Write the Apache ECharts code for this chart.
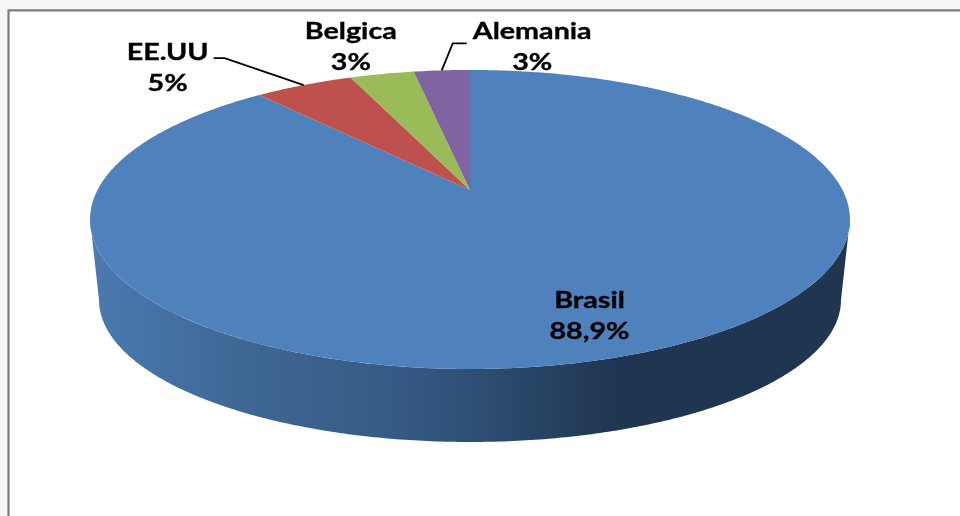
<!DOCTYPE html>
<html>
<head>
<meta charset="utf-8">
<style>html,body{margin:0;padding:0;background:#f6f6f6}#c{width:960px;height:516px;filter:blur(0.45px)}</style>
<script src="https://cdn.jsdelivr.net/npm/echarts@6/dist/echarts.min.js"></script>
</head>
<body>
<div id="c"></div>
<script>
const categories = ['Brasil', 'EE.UU', 'Belgica', 'Alemania'];
const shares = [88.9, 5.1, 3.3, 2.9];
const shareLabels = ['88,9%', '5%', '3%', '3%'];
const sliceColors = ['#4F81BD', '#BE504D', '#9BBB59', '#8064A2'];

// Perspective disc: angle on a circle -> pixel on screen.
const CX = 470, P = -0.197;
const top3d = { y: 190, a: 372.5, b: 143.7 };
const bottom3d = { y: 272, a: 363.7, b: 136.5 };
const labelOffset = [[-39, -39.5], [-136, -17], [-31, -27], [90.5, -23]];
const leaders = { 1: [[-90, -27], [-79, -27]], 3: [[25, -27], [11, -27]] };

const total = shares.reduce((s, v) => s + v, 0);
function project(theta, disc) {
  const u = Math.sin(theta), v = -Math.cos(theta), d = 1 + P * v;
  return [CX + disc.a * u / d, disc.y + disc.b * v / d];
}
function sliceAngles(i) {
  let before = 0;
  for (let k = 0; k < i; k++) before += shares[k];
  return [before / total * 2 * Math.PI, (before + shares[i]) / total * 2 * Math.PI];
}
function arc(a0, a1, disc) {
  const n = Math.max(2, Math.ceil(Math.abs(a1 - a0) / 0.01));
  const pts = [];
  for (let i = 0; i <= n; i++) pts.push(project(a0 + (a1 - a0) * i / n, disc));
  return pts;
}
// Angle where the disc reaches its widest screen extent (v = -P), on the right side.
const widest = Math.acos(P);

const wallFill = new echarts.graphic.LinearGradient(100, 0, 840, 0, [
  { offset: 0, color: '#4A79AE' },
  { offset: 0.19, color: '#3F6795' },
  { offset: 0.40, color: '#355A85' },
  { offset: 0.50, color: '#2F5075' },
  { offset: 0.70, color: '#1F3550' },
  { offset: 1, color: '#1F3550' }
], true);

const option = {
  backgroundColor: '#f6f6f6',
  animation: false,
  graphic: [{
    type: 'rect', z: -10,
    shape: { x: 8.5, y: 10.3, width: 1000, height: 600 },
    style: { fill: '#ffffff', stroke: '#7c7c7c', lineWidth: 2.2 }
  }],
  series: [
    {
      type: 'custom', coordinateSystem: 'none', z: 2, silent: true,
      data: [shares[0]],
      renderItem() {
        const lower = arc(widest, 2 * Math.PI - widest, bottom3d);
        const upper = arc(2 * Math.PI - widest, widest, top3d);
        return { type: 'polygon', shape: { points: lower.concat(upper) }, style: { fill: wallFill } };
      }
    },
    {
      type: 'custom', coordinateSystem: 'none', z: 3, silent: true,
      data: shares,
      renderItem(params) {
        const i = params.dataIndex;
        const [a0, a1] = sliceAngles(i);
        const pts = [[CX, top3d.y]].concat(arc(a0, a1, top3d));
        return { type: 'polygon', shape: { points: pts }, style: { fill: sliceColors[i] } };
      }
    },
    {
      type: 'custom', coordinateSystem: 'none', z: 4, silent: true,
      data: shares,
      renderItem(params) {
        const i = params.dataIndex;
        const [a0, a1] = sliceAngles(i);
        const rim = project((a0 + a1) / 2, top3d);
        const children = [{
          type: 'text',
          x: rim[0] + labelOffset[i][0], y: rim[1] + labelOffset[i][1],
          scaleX: 1.22,
          style: {
            x: 0, y: 0,
            text: categories[i] + '\n' + shareLabels[i],
            align: 'center', verticalAlign: 'middle', lineHeight: 31,
            font: 'bold 23.5px Lato', fill: '#000', stroke: '#000', lineWidth: 0.35
          }
        }];
        if (leaders[i]) {
          const pts = leaders[i].map(o => [rim[0] + o[0], rim[1] + o[1]]).concat([rim]);
          children.push({
            type: 'polyline', shape: { points: pts },
            style: { stroke: '#000', lineWidth: 1.8, fill: null }
          });
        }
        return { type: 'group', children };
      }
    }
  ]
};
const chart = echarts.init(document.getElementById('c'), null, { renderer: 'canvas' });
chart.setOption(option);
</script>
</body>
</html>
